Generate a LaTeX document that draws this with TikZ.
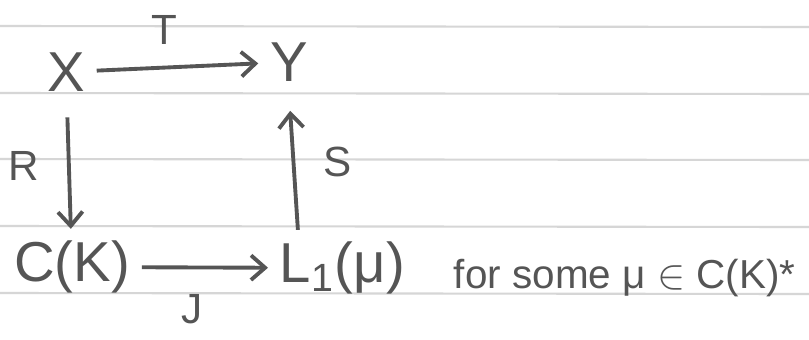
\documentclass[tikz,border=0pt]{standalone}
\usepackage{fontspec}
\setmainfont{Liberation Sans}
\usepackage{tikz,xcolor}
\usetikzlibrary{arrows.meta}
\definecolor{pencil}{HTML}{555555}
\definecolor{ruling}{HTML}{D6D6D6}

\begin{document}
\begin{tikzpicture}[x=0.01cm, y=-0.01cm, thick]
	% Define style for nodes
	\tikzstyle{every node}=[text=pencil, inner sep=3pt]
	\tikzstyle{obj}=[font=\fontsize{16}{18}\selectfont]
	\tikzstyle{map}=[font=\fontsize{12}{14}\selectfont, inner sep=1pt]
	\tikzstyle{arr}=[draw=pencil, line width=1.1pt, -{Straight Barb[length=4pt,width=7pt]}]
	
	\useasboundingbox (0,0) rectangle (809,339);
	\fill[white] (0,0) rectangle (809,339);
	
	% ruled paper
	\begin{scope}[draw=ruling, line width=0.6pt]
		\draw (0,26) -- (809,27);
		\draw (0,93) -- (809,94);
		\draw (0,159) -- (809,160);
		\draw (0,226) -- (809,227);
		\draw (0,293) -- (809,294);
	\end{scope}
	
	\node[obj] (X) at (66,72) {X};
	\node[obj] (Y) at (289,62) {Y};
	\node[obj] (CK) at (72,267) {C(K)};
	\node[obj, anchor=west] (L1mu) at (268,268) {L\textsubscript{1}(μ)};
	
	\node[font=\fontsize{11.5}{14}\selectfont, anchor=west] (note) at (442,278) {for some μ $\in$ C(K)*};
	
	\draw[arr] (X) -- node[map, pos=0.42, above=5pt] {T} (Y);
	\draw[arr, shorten <=4pt] (X) -- node[map, left=7pt] {R} (CK);
	\draw[arr] (CK) -- node[map, pos=0.4, below=6pt] {J} (L1mu);
	\draw[arr, shorten >=5pt] ([xshift=8.5pt]L1mu.north west) -- node[map, right=7pt] {S} (Y.south);
	
\end{tikzpicture}
\end{document}
